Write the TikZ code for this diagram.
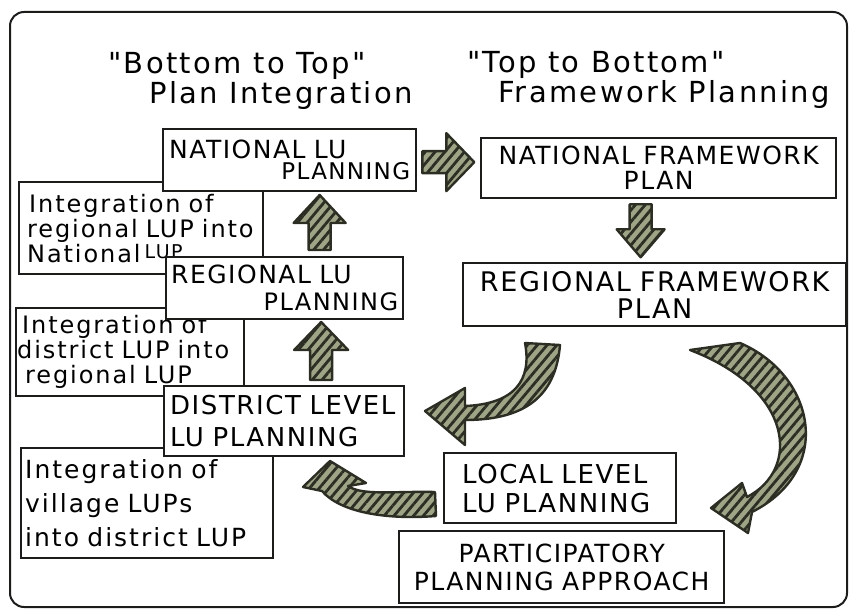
\documentclass[tikz,border=0pt]{standalone}
\usepackage{fontspec}
\setmainfont{DejaVu Sans}
\newfontfamily\handfont[LetterSpace=8]{DejaVu Sans}
\newfontfamily\capsfont[LetterSpace=6]{DejaVu Sans}
\usetikzlibrary{calc,patterns.meta}

\definecolor{inkcol}{RGB}{28,28,26}
\definecolor{arrowfill}{RGB}{158,165,134}
\definecolor{arrowline}{RGB}{44,46,36}

% straight block arrow: start, angle, length, head half width
\newcommand{\fatarrow}[4]{%
  \draw[hatched, shift={#1}, rotate=#2] (0,-11) -- ({#3-28},-11) -- ({#3-28},-#4)
    -- (#3,0) -- ({#3-28},#4) -- ({#3-28},11) -- (0,11) -- cycle;}

\begin{document}
\begin{tikzpicture}[x=1pt, y=-1pt,
    lubox/.style={draw=inkcol, line width=2.3pt, fill=white, anchor=north west,
      inner xsep=8pt, inner ysep=2pt, font=\capsfont\fontsize{25}{27}\selectfont},
    notebox/.style={draw=inkcol, line width=2.3pt, fill=white, anchor=north west,
      inner xsep=8pt, inner ysep=2pt, align=left, font=\handfont\fontsize{24}{25}\selectfont},
    title/.style={font=\handfont\fontsize{29}{30}\selectfont, inner sep=0pt, anchor=base},
    hatched/.style={preaction={fill=arrowfill},
      preaction={pattern={Lines[angle=50, distance=7.5pt, line width=2.8pt]}, pattern color=arrowline},
      draw=arrowline, line width=2.4pt, line join=round}]

\useasboundingbox (0,0) rectangle (851,612);
\draw[draw=inkcol, line width=2pt, rounded corners=14pt] (10,12) rectangle (847,607);

% titles
\node[title] (bttitle) at (237,74) {"Bottom to Top"};
\node[title] (btsub) at (281,104) {Plan Integration};
\node[title] (tbtitle) at (596,73) {"Top to Bottom"};
\node[title] (tbsub) at (664,103) {Framework Planning};

% integration notes (behind)
\node[notebox, minimum width=244pt, minimum height=92pt, text width=236pt, inner xsep=4pt] (intreg) at (18,181)
  {\hspace*{6pt}Integration of\\\hspace*{4pt}regional LUP into\\\hspace*{4pt}National\,\raisebox{4pt}{\fontsize{19}{19}\selectfont LUP}};
\node[notebox, minimum width=228pt, minimum height=88pt, text width=226pt, inner xsep=1pt] (intdis) at (15,307)
  {\hspace*{5pt}Integration of\\district LUP into\\\hspace*{8pt}regional LUP};
\node[notebox, minimum width=252pt, minimum height=110pt, text width=244pt, inner xsep=4pt,
  font=\handfont\fontsize{25}{34}\selectfont] (intvil) at (20,447)
  {Integration of\\village LUPs\\into district LUP};

% bottom to top
\node[lubox, minimum width=253pt, minimum height=62pt, text width=241pt, inner xsep=6pt, align=left,
  font=\capsfont\fontsize{25}{21}\selectfont] (natlu) at (162,128)
  {NATIONAL LU\\\makebox[241pt][r]{\fontsize{23}{23}\selectfont PLANNING}};
\node[lubox, minimum width=237pt, minimum height=62pt, text width=227pt, inner xsep=5pt, align=left,
  font=\capsfont\fontsize{25}{27}\selectfont] (reglu) at (165,256)
  {REGIONAL LU\\\makebox[227pt][r]{\fontsize{24}{24}\selectfont PLANNING}};
\node[lubox, minimum width=240pt, minimum height=70pt, text width=228pt, inner xsep=6pt, align=left,
  font=\capsfont\fontsize{26}{32}\selectfont] (dislu) at (163,385)
  {DISTRICT LEVEL\\LU PLANNING};

% top to bottom
\node[lubox, minimum width=355pt, minimum height=60pt, text width=339pt, align=center,
  font=\capsfont\fontsize{25}{25}\selectfont] (natfw) at (480,137)
  {NATIONAL FRAMEWORK\\PLAN};
\node[lubox, minimum width=383pt, minimum height=63pt, text width=367pt, align=center,
  font=\capsfont\fontsize{27}{27}\selectfont] (regfw) at (462,262)
  {REGIONAL FRAMEWORK\\PLAN};
\node[lubox, minimum width=232pt, minimum height=70pt, text width=212pt, align=left,
  inner xsep=10pt, font=\capsfont\fontsize{26}{29}\selectfont] (loclu) at (443,452)
  {\hspace*{8pt}LOCAL LEVEL\\\hspace*{8pt}LU PLANNING};
\node[lubox, minimum width=325pt, minimum height=72pt, text width=309pt, align=center,
  font=\capsfont\fontsize{25}{28}\selectfont] (partic) at (398,530)
  {PARTICIPATORY\\PLANNING APPROACH};

% straight arrows
\fatarrow{($(natlu.east)+(5,2)$)}{0}{52}{29}
\fatarrow{($(natfw.south)+(-18,5)$)}{-90}{53}{24}
\fatarrow{($(reglu.north)+(35,-6)$)}{90}{55}{26}
\fatarrow{($(dislu.north)+(37,-5)$)}{90}{58}{27}

% curved arrows
\draw[hatched] (525,343) -- (560,345) .. controls (556,392) and (530,420) .. (465,420)
  -- (465,445) -- (425,411) -- (465,388) -- (465,406)
  .. controls (515,404) and (532,380) .. (525,343) -- cycle;
\draw[hatched] (690,350) -- (740,343) .. controls (815,375) and (835,470) .. (752,512)
  -- (748,533) -- (711,508) -- (742,483) -- (747,497)
  .. controls (800,470) and (795,390) .. (690,350) -- cycle;
\draw[hatched] (435,492) -- (436,516) .. controls (385,520) and (340,512) .. (322,491)
  -- (303,487) -- (330,461) -- (366,483) -- (348,486)
  .. controls (362,496) and (395,491) .. (435,492) -- cycle;
\end{tikzpicture}
\end{document}
